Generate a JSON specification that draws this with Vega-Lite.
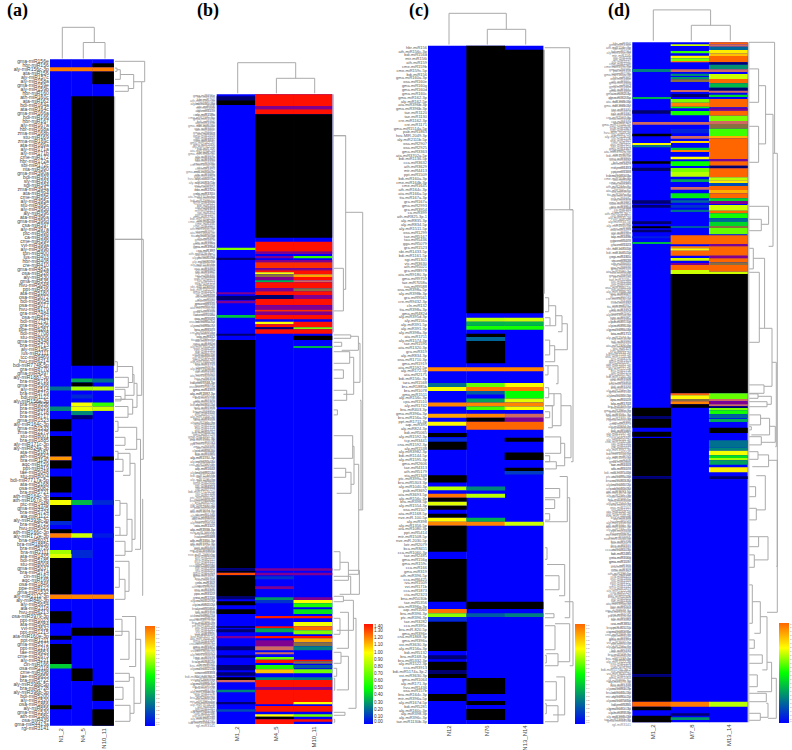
{"$schema":"https://vega.github.io/schema/vega-lite/v6.json","padding":0,"spacing":0,"background":"white","resolve":{"scale":{"color":"independent"},"legend":{"color":"independent"}},"config":{"view":{"stroke":null},"axis":{"disable":true},"legend":{"gradientStrokeWidth":0,"labelOverlap":false,"tickColor":"#999"},"text":{"font":"Liberation Sans"}},
"datasets":{
"ca":[{"c":0,"a":0,"b":166.6,"v":0},{"c":1,"a":0,"b":166.6,"v":0},{"c":2,"a":0,"b":166.6,"v":0},
{"c":2,"a":1,"b":2},{"c":2,"a":3,"b":6.2},{"c":1,"a":9.25,"b":76.6},{"c":2,"a":9.25,"b":76.6},
{"c":0,"a":2,"b":3,"v":0.96},{"c":1,"a":2,"b":3,"v":0.96},{"c":2,"a":2,"b":3,"v":0.96},
{"c":1,"a":79.8,"b":80.8,"v":0.33},{"c":2,"a":79.8,"b":80.8,"v":0.22},{"c":1,"a":80.8,"b":81.8},
{"c":0,"a":81.8,"b":82.8,"v":0.21},{"c":1,"a":81.8,"b":82.8,"v":0.66},{"c":2,"a":81.8,"b":82.8,"v":0.68},
{"c":1,"a":83.8,"b":84.8,"v":0.08},{"c":1,"a":85.8,"b":86.8,"v":0.74},{"c":2,"a":85.8,"b":86.8,"v":0.55},
{"c":0,"a":86.8,"b":87.9,"v":0.26},{"c":1,"a":86.8,"b":87.9,"v":0.73},{"c":2,"a":86.8,"b":87.9,"v":0.7},
{"c":1,"a":87.9,"b":89,"v":0.27},{"c":1,"a":89,"b":90,"m":"n"},
{"c":0,"a":90,"b":93},{"c":0,"a":94.2,"b":99.3},{"c":0,"a":99.3,"b":100.3,"v":0.92},{"c":2,"a":99.3,"b":100.3},{"c":0,"a":100.3,"b":102.3},{"c":0,"a":104.3,"b":108.3},{"c":0,"a":109.4,"b":110.2},
{"c":0,"a":110.2,"b":111.4,"v":0.74},{"c":1,"a":110.2,"b":111.4,"v":0.36},{"c":2,"a":110.2,"b":111.4,"v":0.08},
{"c":0,"a":111.4,"b":115.4},{"c":0,"a":115.4,"b":116.4,"v":0.08},{"c":0,"a":117.5,"b":118.5},
{"c":0,"a":118.5,"b":119.6,"v":0.96},{"c":1,"a":118.5,"b":119.6,"v":0.7},{"c":2,"a":118.5,"b":119.6,"v":0.05},
{"c":0,"a":122.7,"b":123.7,"v":0.66},{"c":1,"a":122.7,"b":124.7,"v":0.08},{"c":0,"a":123.7,"b":124.7,"v":0.72},
{"c":0,"a":124.7,"b":133.8},{"c":0,"a":133.8,"b":134.9,"v":0.95},{"c":1,"a":133.8,"b":134.9,"v":0.95},{"c":2,"a":133.8,"b":134.9,"v":0.95},
{"c":0,"a":138,"b":141},{"c":1,"a":142.1,"b":144.1},{"c":2,"a":142.1,"b":144.1},{"c":0,"a":144.1,"b":145.1},{"c":0,"a":146.2,"b":151.2},{"c":0,"a":151.2,"b":152.3,"v":0.4},
{"c":1,"a":152.3,"b":155.4},{"c":2,"a":156.5,"b":160.4},{"c":0,"a":161.5,"b":162.5},{"c":2,"a":162.5,"b":166.6}],
"cb":[{"c":0,"a":0,"b":314.8,"v":0},{"c":1,"a":0,"b":314.8,"v":0},{"c":2,"a":0,"b":314.8,"v":0},
{"c":0,"a":1,"b":3,"m":"n"},{"c":0,"a":3,"b":5.3},
{"c":1,"a":0,"b":5.8,"v":1.4},{"c":2,"a":0,"b":5.8,"v":1.4},{"c":1,"a":5.8,"b":7.5,"m":"p"},{"c":2,"a":5.8,"b":7.5,"m":"p"},{"c":1,"a":7.5,"b":10,"v":1.4},{"c":2,"a":7.5,"b":10,"v":1.4},{"c":1,"a":10,"b":71.7},{"c":2,"a":10,"b":71.7},
{"c":1,"a":73.7,"b":78.7,"v":1.4},{"c":2,"a":73.7,"b":78.7,"v":1.4},{"c":0,"a":76.7,"b":77.8,"v":0.75},{"c":0,"a":81.7,"b":82.8,"m":"n"},
{"c":1,"a":78.7,"b":79.8,"m":"p"},{"c":2,"a":78.7,"b":79.8,"m":"p"},{"c":1,"a":80.8,"b":82,"m":"p"},{"c":2,"a":80.8,"b":82,"v":0.6},
{"c":1,"a":82.8,"b":84,"m":"p"},{"c":2,"a":82.8,"b":84,"m":"p"},{"c":1,"a":84,"b":87,"v":1.35},{"c":2,"a":84,"b":87,"v":1.35},{"c":1,"a":87,"b":88,"m":"p"},{"c":2,"a":87,"b":88,"m":"p"},
{"c":1,"a":88,"b":89,"v":1.4},{"c":2,"a":88,"b":90,"v":1.4},{"c":1,"a":89,"b":90,"v":1.0},{"c":1,"a":90,"b":91.3,"m":"o"},{"c":2,"a":90,"b":91.3,"v":1.15},{"c":1,"a":91.3,"b":93,"m":"p"},{"c":2,"a":91.3,"b":93,"v":1.4},
{"c":1,"a":93,"b":94,"v":0.35},{"c":2,"a":93,"b":94,"m":"t"},{"c":1,"a":94,"b":97,"v":1.4},{"c":2,"a":94,"b":97,"v":1.4},{"c":1,"a":97,"b":98.5,"m":"p"},{"c":2,"a":97,"b":98.5,"m":"o"},{"c":1,"a":98.5,"b":100.3,"v":1.4},{"c":2,"a":98.5,"b":100.3,"v":1.4},
{"c":1,"a":100.3,"b":102.3,"m":"n"},{"c":2,"a":100.3,"b":102.3,"m":"p"},{"c":1,"a":102.3,"b":105.5,"v":1.4},{"c":2,"a":102.3,"b":105.5,"v":1.4},{"c":1,"a":105.5,"b":107.7,"m":"p"},{"c":2,"a":105.5,"b":107.7,"m":"p"},{"c":1,"a":107.7,"b":108.7,"v":1.35},{"c":2,"a":107.7,"b":108.7,"v":1.35},{"c":1,"a":108.7,"b":110.3,"m":"p"},{"c":2,"a":108.7,"b":110.3,"m":"p"},
{"c":1,"a":110.3,"b":112.5,"v":1.4},{"c":2,"a":110.3,"b":112.5,"v":1.4},{"c":1,"a":113.7,"b":115,"v":1.0},{"c":2,"a":113.7,"b":116.5,"v":1.4},{"c":1,"a":115,"b":116.5,"v":1.4},{"c":1,"a":116.5,"b":117.5,"m":"n"},{"c":2,"a":116.5,"b":117.5,"v":0.75},{"c":1,"a":117.5,"b":119.7,"v":1.4},{"c":2,"a":117.5,"b":119.7,"v":1.4},
{"c":2,"a":120.7,"b":122.8},{"c":2,"a":125.8,"b":126.8,"v":0.35},
{"c":0,"a":99,"b":100,"m":"p"},{"c":0,"a":100.8,"b":102.8,"m":"n"},{"c":0,"a":103.2,"b":104.5,"m":"p"},{"c":0,"a":110.3,"b":111.7,"v":0.38},{"c":0,"a":119.7,"b":120.7,"m":"n"},
{"c":0,"a":122.8,"b":156.5},{"c":0,"a":157.5,"b":237},
{"c":0,"a":237,"b":238.2,"m":"n"},{"c":1,"a":237,"b":238.2,"m":"p"},{"c":2,"a":237,"b":238.2,"m":"p"},{"c":0,"a":238.2,"b":239.2},{"c":0,"a":239.2,"b":240.5,"v":1.3},{"c":1,"a":239.2,"b":240.5,"m":"p"},{"c":2,"a":239.2,"b":240.5,"m":"p"},
{"c":0,"a":240.5,"b":250.8},{"c":1,"a":241,"b":242.5,"v":0.1},{"c":1,"a":246,"b":247.3,"m":"p"},{"c":0,"a":250.8,"b":252.5,"m":"n"},{"c":1,"a":251.5,"b":252.8,"v":0.3},{"c":2,"a":251.5,"b":252.8,"m":"p"},
{"c":0,"a":253.5,"b":255.5},{"c":1,"a":252.8,"b":254.5,"v":0.1},{"c":2,"a":252.8,"b":254.5,"v":1.0},{"c":2,"a":254.5,"b":256.5,"v":0.55},{"c":0,"a":257.5,"b":259.8},{"c":2,"a":257.5,"b":259.8,"v":0.45},
{"c":1,"a":260.8,"b":262,"v":1.38},{"c":2,"a":260.8,"b":262,"v":1.38},{"c":2,"a":263.8,"b":266,"v":0.98},{"c":0,"a":265.8,"b":266.8,"m":"n"},{"c":1,"a":266,"b":267,"v":1.4},{"c":2,"a":266,"b":268,"v":1.25},{"c":0,"a":267.5,"b":269,"m":"n"},{"c":1,"a":267,"b":269,"v":0.33},{"c":2,"a":268,"b":270,"v":0.75},
{"c":0,"a":270.8,"b":272,"m":"p"},{"c":1,"a":270.8,"b":272,"v":1.4},{"c":2,"a":270.8,"b":272,"v":1.4},{"c":2,"a":272,"b":274,"v":1.15},{"c":1,"a":273,"b":276,"m":"p"},{"c":2,"a":274,"b":275.8,"m":"o"},{"c":0,"a":276,"b":278,"m":"n"},{"c":1,"a":276,"b":278,"m":"t"},{"c":2,"a":276,"b":278,"v":0.25},
{"c":1,"a":279,"b":280,"m":"t"},{"c":1,"a":281.3,"b":282.7,"v":0.7},{"c":0,"a":280.5,"b":281.7,"m":"n"},{"c":1,"a":282.7,"b":284.3,"v":1.4},{"c":2,"a":282.7,"b":283.5,"v":1.4},{"c":2,"a":283.5,"b":284.7,"m":"o"},
{"c":1,"a":285.3,"b":287.5,"v":0.55},{"c":2,"a":285.3,"b":287,"v":0.18},{"c":0,"a":285.3,"b":288,"m":"n"},{"c":1,"a":287.5,"b":289.5,"v":1.1},{"c":2,"a":287.5,"b":289.5,"v":0.72},{"c":0,"a":289,"b":290.7,"m":"n"},{"c":1,"a":291.5,"b":292.8,"v":0.28},{"c":2,"a":291.5,"b":292.8,"v":0.25},{"c":0,"a":291.5,"b":292.8},
{"c":0,"a":292.8,"b":294,"m":"t"},{"c":1,"a":292.8,"b":296.3,"v":1.4},{"c":2,"a":292.8,"b":296.3,"v":1.4},{"c":1,"a":296.3,"b":297.7,"m":"p"},{"c":2,"a":296.3,"b":297.7,"m":"p"},{"c":0,"a":297.7,"b":299,"v":0.26},
{"c":1,"a":297.7,"b":303.8,"v":1.4},{"c":2,"a":297.7,"b":303.8,"v":1.4},{"c":1,"a":303.8,"b":305,"v":1.4},{"c":2,"a":303.8,"b":305,"v":1.0},{"c":0,"a":303.8,"b":305,"m":"n"},{"c":1,"a":305.8,"b":308.7,"v":1.4},{"c":2,"a":305.8,"b":308.7,"v":1.4},{"c":0,"a":307.5,"b":308.7,"v":0.15},
{"c":1,"a":310,"b":311.2,"v":1.0},{"c":2,"a":310,"b":311.2,"v":0.72},{"c":1,"a":311.2,"b":312.5},{"c":1,"a":312.5,"b":314.8,"v":1.4},{"c":2,"a":312.5,"b":313.7,"v":1.4}],
"cc":[{"c":0,"a":0,"b":169.6,"v":0},{"c":1,"a":0,"b":169.6,"v":0},{"c":2,"a":0,"b":169.6,"v":0},
{"c":1,"a":0,"b":66.9},{"c":2,"a":1,"b":66.9},
{"c":1,"a":68,"b":69,"v":0.68},{"c":2,"a":68,"b":69,"v":0.7},{"c":1,"a":69,"b":70,"v":0.35},{"c":2,"a":69,"b":70,"v":0.36},{"c":1,"a":70,"b":71,"v":0.52},{"c":2,"a":70,"b":71,"v":0.52},
{"c":1,"a":72,"b":72.8},{"c":1,"a":72.8,"b":73.8,"v":0.2},{"c":1,"a":73.8,"b":79.4},
{"c":0,"a":80.4,"b":81.4,"v":0.95},{"c":1,"a":80.4,"b":81.4,"v":0.95},{"c":2,"a":80.4,"b":81.4,"v":0.95},
{"c":0,"a":84.3,"b":85.3,"v":0.22},{"c":1,"a":84.3,"b":85.3,"v":0.6},{"c":2,"a":84.3,"b":85.3,"v":0.74},
{"c":0,"a":85.3,"b":86.3,"v":0.74},{"c":1,"a":85.3,"b":86.3,"v":0.98},{"c":2,"a":85.3,"b":86.3,"v":0.97},
{"c":1,"a":86.3,"b":87.2,"v":0.18},{"c":2,"a":86.3,"b":88.2,"v":0.5},{"c":1,"a":88.2,"b":89.2,"v":0.32},{"c":2,"a":88.2,"b":89.2,"v":0.72},
{"c":0,"a":89.2,"b":90.2,"v":0.95},{"c":1,"a":89.2,"b":90.2,"v":0.95},{"c":2,"a":89.2,"b":90.2,"v":0.95},{"c":1,"a":90.2,"b":91.1,"v":0.56},{"c":2,"a":90.2,"b":91.1,"v":0.74},
{"c":0,"a":92,"b":93,"v":0.9},{"c":1,"a":92,"b":93,"v":0.95},{"c":2,"a":92,"b":93,"m":"t"},{"c":1,"a":93,"b":94},{"c":2,"a":93,"b":94,"m":"p"},
{"c":0,"a":94,"b":95,"v":0.76},{"c":1,"a":94,"b":96,"v":1},{"c":2,"a":94,"b":96,"v":1},
{"c":0,"a":96.8,"b":97.8},{"c":2,"a":98,"b":99},{"c":0,"a":98,"b":99,"v":0.08},{"c":0,"a":99,"b":101},{"c":2,"a":101.7,"b":103.6},{"c":2,"a":105.5,"b":106.3},{"c":2,"a":106.3,"b":107.2,"v":0.12},
{"c":0,"a":107.4,"b":109.2},{"c":0,"a":110.2,"b":111.2,"v":0.68},{"c":1,"a":110.2,"b":111.2,"v":0.26},{"c":0,"a":111.2,"b":112,"v":0},{"c":0,"a":112,"b":113,"v":0.98},{"c":1,"a":112,"b":113,"v":0.68},
{"c":0,"a":113,"b":114},{"c":0,"a":114,"b":115,"v":0.72},{"c":0,"a":115,"b":116},{"c":0,"a":117,"b":118},{"c":0,"a":118,"b":119,"v":0.75},{"c":1,"a":118,"b":119,"v":0.34},
{"c":0,"a":119,"b":120,"v":0.95},{"c":1,"a":119,"b":120,"v":0.95},{"c":2,"a":119,"b":120,"v":0.7},
{"c":0,"a":120,"b":126.5},{"c":0,"a":128.3,"b":139},{"c":1,"a":139,"b":140.8},{"c":2,"a":139,"b":140.8},
{"c":0,"a":140.8,"b":141.9,"v":0.98},{"c":0,"a":141.9,"b":142.8,"v":0.64},{"c":1,"a":141.9,"b":142.8,"v":0.18},{"c":2,"a":141.9,"b":142.8,"v":0.25},{"c":0,"a":142.8,"b":144,"v":0.08},
{"c":0,"a":144,"b":151.3},{"c":0,"a":152.4,"b":153.4,"m":"n"},{"c":0,"a":154,"b":156.1},{"c":0,"a":156.1,"b":157.1,"m":"n"},{"c":0,"a":157.1,"b":158.1},{"c":1,"a":158.1,"b":162.1},{"c":0,"a":162.1,"b":163.8},{"c":1,"a":163.8,"b":164.8},{"c":1,"a":165.8,"b":168.6}],
"cd":[{"c":0,"a":0,"b":340,"v":0},{"c":1,"a":0,"b":340,"v":0},{"c":2,"a":0,"b":340,"v":0},
{"c":0,"a":13.3,"b":14.8,"v":0.25},{"c":0,"a":27.3,"b":28.3,"v":0.35},{"c":0,"a":34,"b":35.7,"m":"n"},{"c":0,"a":39.8,"b":41.2,"m":"t"},{"c":0,"a":45.7,"b":47},{"c":0,"a":50.3,"b":51.5,"v":0.76},{"c":0,"a":51.5,"b":52.5,"v":0.25},{"c":0,"a":59.5,"b":60.7},{"c":0,"a":62.7,"b":64.3,"m":"n"},{"c":0,"a":79,"b":80.7,"m":"n"},{"c":0,"a":81.3,"b":82.7,"m":"n"},{"c":0,"a":89.5,"b":90.8,"m":"n"},{"c":0,"a":92,"b":93},{"c":0,"a":93.7,"b":95,"m":"n"},{"c":0,"a":97,"b":98,"v":0.06},{"c":0,"a":99.8,"b":100.8,"v":0.36},
{"c":1,"a":1,"b":1.8,"v":0.7},{"c":1,"a":4.3,"b":5.5,"v":0.55},{"c":1,"a":6.7,"b":8,"v":0.78},{"c":1,"a":8,"b":9.3,"v":0.62},{"c":1,"a":9.3,"b":10,"v":0.95},{"c":1,"a":13.5,"b":14.8,"m":"t"},{"c":1,"a":15.7,"b":16.8,"v":0.27},{"c":1,"a":17.3,"b":18.5,"v":0.3},{"c":1,"a":18.5,"b":19.8,"m":"o"},{"c":1,"a":23.8,"b":24.8,"m":"t"},{"c":1,"a":25.8,"b":27.3,"m":"n"},{"c":1,"a":28.3,"b":30.2,"v":0.62},{"c":1,"a":30.2,"b":32.2,"v":0.95},{"c":1,"a":32.2,"b":33,"v":0.5},{"c":1,"a":34.3,"b":36.5,"v":0.52},{"c":1,"a":39.8,"b":41.2,"m":"t"},{"c":1,"a":43.3,"b":45.5,"v":0.07},{"c":1,"a":46.8,"b":48.2,"m":"t"},{"c":1,"a":49.3,"b":50.3,"v":0.82},{"c":1,"a":52.7,"b":53.8,"v":0.4},{"c":1,"a":53.8,"b":54.8,"v":0.95},{"c":1,"a":57.2,"b":58.5,"v":0.76},{"c":1,"a":59.5,"b":61.8,"v":0.5},{"c":1,"a":62.8,"b":64.8,"v":0.62},{"c":1,"a":64.8,"b":67.2,"v":0.68},{"c":1,"a":68.5,"b":69.8,"v":0.32},{"c":1,"a":72.3,"b":73.7,"m":"t"},{"c":1,"a":75.5,"b":78,"v":0.46},{"c":1,"a":79,"b":80.2,"v":0.2},{"c":1,"a":81.3,"b":82.7,"v":0.1},{"c":1,"a":83.7,"b":84.8,"v":0.22},{"c":1,"a":91.8,"b":92.8,"v":0.18},
{"c":1,"a":96.5,"b":101,"v":1},{"c":1,"a":102,"b":103,"v":0.96},{"c":1,"a":103,"b":104.2,"v":0.76},{"c":1,"a":104.2,"b":106.7,"v":1},{"c":1,"a":107.8,"b":109.2,"v":0.7},{"c":1,"a":110.3,"b":111.3,"m":"p"},{"c":1,"a":111.3,"b":113.8,"v":1},{"c":1,"a":113.8,"b":115.8,"v":0.7},{"c":1,"a":115.8,"b":175.5},
{"c":2,"a":0,"b":1,"v":1},{"c":2,"a":1,"b":2.2,"m":"t"},{"c":2,"a":2.2,"b":3.8,"v":0.2},{"c":2,"a":3.8,"b":5.5,"v":0.78},{"c":2,"a":5.5,"b":6.8,"v":0.85},{"c":2,"a":6.8,"b":10,"v":1},{"c":2,"a":10,"b":11.2,"m":"n"},{"c":2,"a":11.2,"b":13.5,"v":0.28},{"c":2,"a":13.5,"b":14.8,"m":"t"},{"c":2,"a":15.8,"b":18.3,"v":0.7},{"c":2,"a":18.3,"b":20.5,"v":1},{"c":2,"a":20.5,"b":22.7,"v":0.36},{"c":2,"a":22.7,"b":24.2,"m":"n"},{"c":2,"a":24.2,"b":25.2,"m":"t"},{"c":2,"a":26.2,"b":27.3,"v":0.42},{"c":2,"a":28.3,"b":32.5,"v":1},{"c":2,"a":33,"b":34.2,"m":"p"},{"c":2,"a":34.2,"b":36.7,"v":1},{"c":2,"a":36.7,"b":39.3,"v":0.62},{"c":2,"a":39.3,"b":40.8,"m":"t"},{"c":2,"a":40.8,"b":43.2,"m":"o"},{"c":2,"a":43.2,"b":46.8,"v":0.56},{"c":2,"a":46.8,"b":48,"v":0.88},{"c":2,"a":48,"b":58.5,"v":1},{"c":2,"a":58.5,"b":59.5,"m":"p"},{"c":2,"a":59.5,"b":61.7,"v":1},{"c":2,"a":61.7,"b":63,"m":"n"},{"c":2,"a":63,"b":67.5,"v":1},{"c":2,"a":67.5,"b":69,"v":0.68},{"c":2,"a":69,"b":70.3,"v":0.78},{"c":2,"a":70.3,"b":71.8,"v":0.15},{"c":2,"a":71.8,"b":73.8,"v":1},{"c":2,"a":73.8,"b":75.5,"v":0.88},{"c":2,"a":75.5,"b":78,"v":1},{"c":2,"a":78,"b":79.3,"v":0.42},{"c":2,"a":79.3,"b":80.8,"m":"p"},{"c":2,"a":81.3,"b":84.2,"v":0.7},{"c":2,"a":84.2,"b":85.5,"v":1},{"c":2,"a":85.5,"b":88,"v":0.52},{"c":2,"a":88,"b":89.7,"v":0.2},{"c":2,"a":89.7,"b":91.8,"v":0.42},{"c":2,"a":91.8,"b":92.8,"m":"o"},{"c":2,"a":92.8,"b":96,"v":0.6},{"c":2,"a":96.5,"b":101,"v":1},{"c":2,"a":101,"b":102,"m":"p"},{"c":2,"a":102,"b":106.7,"v":1},{"c":2,"a":106.7,"b":108,"m":"p"},{"c":2,"a":108,"b":110,"v":1},{"c":2,"a":110,"b":111.3,"m":"o"},{"c":2,"a":111.3,"b":114.7,"v":1},{"c":2,"a":114.7,"b":115.8,"v":0.7},{"c":2,"a":115.8,"b":175.5},
{"c":1,"a":175.5,"b":176.5,"v":1},{"c":1,"a":176.5,"b":178.3,"v":0.76},{"c":2,"a":175.5,"b":178.3,"v":0.6},{"c":1,"a":178.3,"b":179.5,"m":"o"},{"c":2,"a":178.3,"b":179.5,"m":"t"},{"c":1,"a":179.5,"b":181,"v":0.95},{"c":2,"a":179.5,"b":181,"m":"p"},{"c":1,"a":181,"b":182.7},{"c":2,"a":181,"b":182,"m":"t"},{"c":2,"a":182,"b":182.8,"m":"n"},
{"c":0,"a":182.7,"b":186.8},{"c":0,"a":186.8,"b":188.2,"m":"n"},{"c":0,"a":188.2,"b":192.7},{"c":0,"a":194.7,"b":197.2},{"c":0,"a":197.8,"b":217},{"c":0,"a":217,"b":218.3,"m":"n"},{"c":0,"a":218.3,"b":316},{"c":0,"a":316,"b":317.3,"m":"n"},{"c":0,"a":317.3,"b":329.7},{"c":0,"a":329.7,"b":332.2,"v":1},{"c":0,"a":332.2,"b":334},{"c":0,"a":336.7,"b":340},
{"c":1,"a":329.7,"b":332.2,"v":0.96},{"c":1,"a":335.5,"b":336.7,"m":"n"},{"c":1,"a":337.5,"b":338.8,"v":0.3},
{"c":2,"a":182.8,"b":184,"v":0.62},{"c":2,"a":184,"b":186,"v":0.52},{"c":2,"a":186,"b":188,"v":0.2},{"c":2,"a":188.3,"b":189.8,"v":0.33},{"c":2,"a":192.7,"b":195.3},{"c":2,"a":199,"b":202.7,"v":0.22},{"c":2,"a":202.7,"b":204.2,"v":0.26},{"c":2,"a":204.2,"b":206.5,"v":0.74},{"c":2,"a":206.5,"b":207.8,"v":0.44},{"c":2,"a":207.8,"b":209,"v":0.66},{"c":2,"a":209,"b":211.2,"v":0.32},{"c":2,"a":212.5,"b":215,"v":0.78},{"c":2,"a":217,"b":218.3,"m":"n"},{"c":2,"a":329.7,"b":332.2,"v":0.68}],
"da":[{"h":67,"a":2.2,"b":3,"p":65,"q":65},{"h":70.3,"a":2.6,"b":5,"p":67,"q":65},{"h":78.3,"a":6.6,"b":8,"p":65,"q":65},{"h":83.7,"a":3.8,"b":7.3,"p":70.3,"q":78.3},{"h":91.7,"a":5.6,"b":84,"p":83.7,"q":87},{"h":94.7,"a":0.5,"b":5.6,"p":65,"q":91.7},{"h":93.3,"a":45,"b":100,"p":65,"q":90.5},{"h":92.7,"a":110,"b":134,"p":92,"q":92},
{"h":67.3,"a":75.6,"b":78.1,"p":65,"q":65},{"h":82.7,"a":76.8,"b":80.8,"p":67.3,"q":78.3},{"h":78.3,"a":79.5,"b":82,"p":65,"q":65},{"h":84,"a":78.8,"b":84,"p":82.7,"q":75},{"h":75,"a":82.5,"b":85,"p":65,"q":65},{"h":71,"a":84.3,"b":85.4,"p":65,"q":65},{"h":82.7,"a":85,"b":88.7,"p":71,"q":78},{"h":78,"a":86.8,"b":89.5,"p":65,"q":65},{"h":87,"a":81,"b":87,"p":84,"q":82.7},
{"h":68,"a":90.5,"b":93,"p":65,"q":65},{"h":86.7,"a":92,"b":97.5,"p":68,"q":75},{"h":75,"a":94.5,"b":96.5,"p":65,"q":65},{"h":68,"a":98,"b":100,"p":65,"q":65},{"h":80,"a":98.5,"b":104,"p":68,"q":73},{"h":73,"a":100,"b":103,"p":65,"q":65},{"h":90.5,"a":95,"b":122.5,"p":86.7,"q":85},{"h":85,"a":101,"b":120,"p":80,"q":82},
{"h":70,"a":110.3,"b":114,"p":65,"q":65},{"h":77,"a":111,"b":119,"p":70,"q":70},{"h":70,"a":117,"b":119,"p":65,"q":65},{"h":82,"a":115,"b":123,"p":77,"q":75},{"h":75,"a":120.5,"b":124,"p":65,"q":65},
{"h":69.3,"a":127,"b":132,"p":65,"q":65},{"h":75,"a":130,"b":135,"p":69.3,"q":65},{"h":79,"a":125.5,"b":133,"p":65,"q":75},{"h":85.7,"a":139.3,"b":151.8,"p":72,"q":79},{"h":72,"a":140,"b":144,"p":65,"q":65},{"h":79,"a":143,"b":150,"p":65,"q":70},{"h":90.7,"a":145,"b":161,"p":85.7,"q":84},{"h":79.3,"a":153.5,"b":155.5,"p":65,"q":65},{"h":73,"a":157,"b":160,"p":65,"q":65},{"h":84,"a":154.5,"b":163.5,"p":79.3,"q":80},{"h":80,"a":161.5,"b":165.5,"p":65,"q":65}],
"db":[{"h":129,"a":20.7,"b":97.5,"p":116.7,"q":126.7},{"h":146,"a":59,"b":207.8,"p":129,"q":144.3},{"h":126.7,"a":87,"b":108.3,"p":117,"q":117},{"h":134,"a":120.3,"b":122,"p":117,"q":117},{"h":141.7,"a":121,"b":128,"p":134,"q":125},{"h":125,"a":124,"b":126,"p":117,"q":117},{"h":133,"a":128.7,"b":134.5,"p":117,"q":117},{"h":143.3,"a":124.5,"b":144,"p":141.7,"q":137},{"h":137,"a":131.5,"b":150,"p":133,"q":126.7},{"h":126.7,"a":137.8,"b":142,"p":117,"q":117},{"h":130,"a":148,"b":153,"p":117,"q":117},{"h":120.7,"a":157.8,"b":160.3,"p":117,"q":117},{"h":136,"a":170.7,"b":182,"p":117,"q":117},{"h":144.3,"a":153,"b":207.8,"p":143.3,"q":142},{"h":129,"a":187,"b":191.5,"p":117,"q":117},{"h":134.3,"a":189,"b":199.5,"p":129,"q":120},{"h":137.3,"a":176,"b":195,"p":136,"q":134.3},{"h":142,"a":185,"b":240,"p":137.3,"q":131.7},{"h":123.3,"a":228.7,"b":237.8,"p":117,"q":117},{"h":131.7,"a":234,"b":243,"p":123.3,"q":117},{"h":142.7,"a":238,"b":250,"p":131.7,"q":134},{"h":134,"a":241,"b":250,"p":117,"q":123},{"h":126.7,"a":251,"b":253.7,"p":117,"q":117},{"h":136.7,"a":253,"b":268,"p":126.7,"q":120},{"h":123.3,"a":262,"b":270,"p":117,"q":117},{"h":131.7,"a":259,"b":277,"p":123.3,"q":120},{"h":124.3,"a":279,"b":284.5,"p":117,"q":117},{"h":131.7,"a":281,"b":297.8,"p":124.3,"q":120},{"h":120,"a":287,"b":291,"p":117,"q":117},{"h":118,"a":292,"b":298,"p":117,"q":117},{"h":139.3,"a":262,"b":307,"p":136.7,"q":131.7},{"h":128.3,"a":309,"b":310.5,"p":117,"q":117},{"h":118,"a":312.5,"b":314,"p":117,"q":117}],
"dc":[{"h":141.7,"a":0.5,"b":41,"p":116.7,"q":145},{"h":145,"a":41,"b":104,"p":116.7,"q":143},{"h":120.7,"a":63,"b":66.5,"p":117,"q":117},{"h":127.7,"a":65,"b":70,"p":120.7,"q":122},{"h":122,"a":68,"b":70,"p":117,"q":117},{"h":134,"a":67.5,"b":71.5,"p":127.7,"q":130},{"h":139.3,"a":69.5,"b":76,"p":134,"q":126.7},
{"h":121.7,"a":73.6,"b":77.3,"p":117,"q":117},{"h":126.7,"a":75,"b":79,"p":121.7,"q":117},{"h":120,"a":80,"b":82.3,"p":117,"q":117},{"h":130,"a":80,"b":84.5,"p":120,"q":128},{"h":120.7,"a":85.5,"b":88,"p":117,"q":117},{"h":126,"a":87,"b":90,"p":120.7,"q":117},{"h":121.7,"a":91.5,"b":93,"p":117,"q":117},{"h":124.3,"a":90,"b":95.5,"p":117,"q":120},{"h":133,"a":87,"b":95,"p":126,"q":124.3},{"h":132.7,"a":97.8,"b":101.9,"p":117,"q":117},{"h":121.7,"a":102.5,"b":104,"p":117,"q":117},{"h":128.3,"a":104,"b":105.8,"p":117,"q":117},{"h":136.7,"a":99.4,"b":105,"p":132.7,"q":128.3},{"h":143,"a":90,"b":103,"p":133,"q":136.7},
{"h":139.3,"a":107.7,"b":119,"p":131.7,"q":117},{"h":131.7,"a":110.7,"b":113,"p":117,"q":117},{"h":126.7,"a":113.5,"b":115.7,"p":117,"q":117},{"h":121.7,"a":117,"b":118.6,"p":117,"q":117},{"h":141.7,"a":113,"b":143,"p":139.3,"q":136.7},{"h":119,"a":125.5,"b":128.4,"p":117,"q":117},{"h":136.7,"a":129.7,"b":137.5,"p":119,"q":131},{"h":131,"a":132.5,"b":136,"p":117,"q":117},{"h":126,"a":142,"b":143,"p":117,"q":117},{"h":145,"a":139,"b":155,"p":136.7,"q":141.7},{"h":141.7,"a":144.5,"b":154,"p":127,"q":130},{"h":127,"a":145,"b":151,"p":117,"q":117},{"h":118.3,"a":152.4,"b":154.3,"p":117,"q":117},{"h":130,"a":152,"b":155,"p":118.3,"q":117},{"h":128.3,"a":159,"b":163.6,"p":117,"q":117},{"h":136.7,"a":157.8,"b":167.3,"p":128.3,"q":125},{"h":118.3,"a":164.5,"b":167,"p":117,"q":117},{"h":130,"a":165,"b":169,"p":118.3,"q":117}],
"dd":[{"h":142.3,"a":0,"b":55.5,"p":116.7,"q":140.7},{"h":145,"a":55.5,"b":262,"p":142.3,"q":144},{"h":126.3,"a":13.3,"b":30,"p":117,"q":117},{"h":133.3,"a":21.7,"b":50.8,"p":126.3,"q":126.3},{"h":126.3,"a":42,"b":60,"p":117,"q":117},{"h":140.7,"a":36,"b":102,"p":133.3,"q":136.3},{"h":136.3,"a":82,"b":91,"p":117,"q":129},{"h":129,"a":88.5,"b":94.2,"p":117,"q":117},{"h":121,"a":103,"b":113.3,"p":117,"q":117},{"h":132.3,"a":108,"b":143,"p":121,"q":127},{"h":127,"a":115,"b":150,"p":117,"q":117},{"h":139.7,"a":143,"b":172,"p":132.3,"q":131.7},{"h":131.7,"a":171.3,"b":175.5,"p":117,"q":117},{"h":125.7,"a":175.8,"b":178,"p":117,"q":117},{"h":134.7,"a":179.7,"b":182.2,"p":117,"q":117},{"h":139,"a":177,"b":181,"p":125.7,"q":134.7},{"h":144,"a":160,"b":202.2,"p":139.7,"q":143},{"h":128.3,"a":186.3,"b":191.3,"p":117,"q":117},{"h":137.3,"a":188,"b":196.3,"p":128.3,"q":119},{"h":119,"a":192.2,"b":193.8,"p":117,"q":117},{"h":129,"a":197.2,"b":201.3,"p":117,"q":117},{"h":143,"a":192,"b":200,"p":137.3,"q":129},{"h":125.7,"a":204.7,"b":208.5,"p":117,"q":117},{"h":136.3,"a":206.3,"b":212.2,"p":125.7,"q":120},{"h":133,"a":216.7,"b":233.8,"p":124,"q":124},{"h":123.3,"a":222.2,"b":227.2,"p":117,"q":117},{"h":124,"a":233,"b":238.8,"p":117,"q":117},{"h":135.7,"a":247.2,"b":258.8,"p":126.3,"q":122},{"h":126.3,"a":247.2,"b":252.2,"p":117,"q":117},{"h":122,"a":256.3,"b":262.5,"p":117,"q":117},{"h":145,"a":209,"b":285,"p":136.3,"q":134.7},{"h":120,"a":271.3,"b":290.5,"p":117,"q":117},{"h":128,"a":279.7,"b":295.5,"p":120,"q":122},{"h":134.7,"a":287.2,"b":313.8,"p":128,"q":130},{"h":122,"a":298.8,"b":303,"p":117,"q":117},{"h":130,"a":306.3,"b":310.5,"p":117,"q":117},{"h":125,"a":316.3,"b":322.2,"p":117,"q":117},{"h":139.3,"a":310,"b":324.7,"p":134.7,"q":125},{"h":134,"a":325.5,"b":329.7,"p":117,"q":117},{"h":144,"a":318,"b":338,"p":139.3,"q":135.7},{"h":135.7,"a":330.5,"b":337.5,"p":134,"q":128},{"h":128,"a":335.5,"b":339,"p":117,"q":117}],
"sa":[{"x":12.3,"y":-8,"x2":44.3,"y2":-8},{"x":12.3,"y":-8,"x2":12.3,"y2":-0.2},{"x":44.3,"y":-8,"x2":44.3,"y2":-4.2},{"x":33.3,"y":-4.2,"x2":55,"y2":-4.2},{"x":33.3,"y":-4.2,"x2":33.3,"y2":-0.2},{"x":55,"y":-4.2,"x2":55,"y2":-0.2},{"x":64.7,"y":9.25,"x2":64.7,"y2":76.6},{"x":64.7,"y":45,"x2":93,"y2":45}],
"sb":[{"x":21,"y":-15.8,"x2":79,"y2":-15.8},{"x":21,"y":-15.8,"x2":21,"y2":-0.5},{"x":79,"y":-15.8,"x2":79,"y2":-8},{"x":59.7,"y":-8,"x2":98,"y2":-8},{"x":59.7,"y":-8,"x2":59.7,"y2":-0.5},{"x":98,"y":-8,"x2":98,"y2":-0.5},{"x":116.5,"y":0,"x2":116.5,"y2":119},{"x":116.5,"y":20.7,"x2":129,"y2":20.7}],
"sc":[{"x":21,"y":-8.1,"x2":78.3,"y2":-8.1},{"x":21,"y":-8.1,"x2":21,"y2":-0.3},{"x":78.3,"y":-8.1,"x2":78.3,"y2":-4.1},{"x":59.3,"y":-4.1,"x2":97.7,"y2":-4.1},{"x":59.3,"y":-4.1,"x2":59.3,"y2":-0.3},{"x":97.7,"y":-4.1,"x2":97.7,"y2":-0.3},{"x":116.3,"y":1,"x2":116.3,"y2":62}],
"sd":[{"x":21,"y":-16.2,"x2":78.3,"y2":-16.2},{"x":21,"y":-16.2,"x2":21,"y2":-0.8},{"x":78.3,"y":-16.2,"x2":78.3,"y2":-8.5},{"x":59,"y":-8.5,"x2":98,"y2":-8.5},{"x":59,"y":-8.5,"x2":59,"y2":-0.8},{"x":98,"y":-8.5,"x2":98,"y2":-0.8},{"x":116.5,"y":0,"x2":116.5,"y2":340}],
"la":["gma-miR156e","hbr-miR156","aly-miR156c-3p","ata-miR156","aly-miR157c","aly-miR158a","gma-miR159e","aly-miR159b","hbr-miR160","ath-miR160c","ata-miR162","bdi-miR164a","ata-miR164c","gma-miR166a","bdi-miR166","hbr-miR167","aly-miR167a","hbr-miR168a","zma-miR168b","stu-miR169","zma-miR169c","ata-miR169a","aly-miR171a","aly-miR171b","cme-miR172","hbr-miR172a","sbi-miR172c","nta-miR390","gma-miR390a","bdi-miR393","sly-miR393","sgi-miR394","zma-miR394a","ata-miR394","cme-miR395","aly-miR395a","stu-miR395c","aly-miR395d","aly-miR396","ata-miR396a","gma-miR396d","csa-miR397","aly-miR397a","ptc-miR398","ca-miR398","cme-miR399","vvi-miR399a","aly-miR399b","tpn-miR400","lus-miR403","hbr-miR408","cre-miR410","gma-miR482a","osa-miR528","aly-miR530","gma-miR535","hvu-miR5048","ppt-miR536","ata-miR5180","osa-miR5072","bdi-miR5054","osa-miR5077","hvu-miR6179","gra-miR7484","osa-miR812","bdi-miR7757","gra-miR7505","ppe-miR6281","bdi-miR7708","stu-miR8006","gma-miR4348","bra-miR5713","aly-miR159c","lus-miR2111","tcc-miR9469","hvu-miR6214","bdi-miR7748-5p","gra-miR8770","gma-miR4397","aly-miR1887-3p","bra-miR5716","gma-miR5368","aly-miR1514","bra-miR5719","bdi-miR1122","aly-miR156e-3p","bra-miR9558","bra-miR6029","bra-miR5718","bra-miR5717","gma-miR1523","aly-miR164c-3p","gma-miR1533","zma-miR2275","stu-miR8001","bra-miR1885","aly-miR171c-3p","aly-miR824a-3p","ata-miR5181","ath-miR5642","bra-miR1140","aqc-miR159","ppt-miR419","tae-miR5048","stu-miR8004","bdi-miR7717a-5p","ata-miR5168","osa-miR5082","bra-miR5721","ath-miR164c-3p","ath-miR167d-3p","ptc-miR1448","gma-miR4405","bra-miR5724","ata-miR1122","aly-miR393b-3p","bra-miR5725","hvu-miR5049","ath-miR166c-3p","aly-miR172e-3p","bna-miR6031","bra-miR1885b","bra-miR5726","bra-miR2111","ata-miR1435","bdi-miR5185","stu-miR8008","gma-miR5037","bra-miR5714","cln-miR162","aqc-miR169","osa-miR1846","ppe-miR8122","gma-miR1532","aly-miR2112-3p","aly-miR840-3p","aly-miR5654","ata-miR2118","hvu-miR6213","osa-miR3979-3p","ppt-miR1023","ata-miR5084","vvi-miR3632","ppt-miR1215","ata-miR160e-3p","ppt-miR1211","gma-miR5372","ppt-miR1219","tae-miR9653","cme-miR2673","aly-miR4221","cln-miR166","osa-miR2118","cme-miR398","tae-miR9655","bra-miR5722","aly-miR398b-5p","bra-miR5728","aly-miR396b-3p","bdi-miR5200","aly-miR1520","osa-miR1866","aly-miR856","gma-miR1530","ath-miR158b","osa-miR439","gma-miR4413a","rgl-miR3141"],
"lc":["hbr-miR156","ath-miR156c-3p","bdi-miR156d","mtr-miR156i","ath-miR159","cme-miR159b","cme-miR159c-5p","bdi-miR156","gma-miR160a-3p","osa-miR160e","gma-miR160g","gma-miR160d","gma-miR160c","gma-miR162-3p","aly-miR162-5p","ata-miR396b-3p","gma-miR396b-3p","tae-miR1120","tae-miR1130","cre-miR1162-3p","cre-miR1171","gma-miR1514a-5p","pab-miR1863","hvu-MIR-2049-3p","aly-miR2111b-5p","osa-miR2907","osa-miR2925","gma-miR3363","ata-miR3702a-5p","bdi-miR1136-5p","cca-miR3632","ath-miR3629","mtr-miR4413","ppt-miR1509","bdi-miR160a-3p","cme-miR164b-3p","cme-miR1645","ath-miR164c-3p","ata-miR166a-5p","tta-miR167a-3p","gra-miR167a","gma-miR2993","gra-miR3954","ca-miR399","ath-miR825-3p-1","aly-miR835-3p","aly-miR834-5p","aly-miR1511-5p","osa-miR1299","tae-miR5167","tau-miR5436","gga-miR5079","gra-miR1523","sbi-miR1433-5p","bdi-miR1161-5p","sgi-miR1301","vtc-miR3630","ath-miR5021","gra-miR8978","ata-miR9180-3p","gma-miR9759","tae-miR7058a","iua-miR9588","osa-miR398a-5p","aly-miR398b-3p","gra-miR9561","cre-miR9432-3p","cln-miR132","tta-miR398a-3p","gma-miR482d","aly-miR395d-3p","aly-miR156a","aly-miR391-5p","aly-miR391-3p","aly-miR398a-3p","ata-miR1711","aly-miR1574-3p","tae-miR1590","ata-miR1320-3p","gra-miR319","aly-miR834-3p","osa-miR1710-3p","gma-miR1919","ata-miR1592-5p","aly-miR172-5p","ata-miR2175","bdi-miR156c-3p","tara-miR1568","bra-miR1885b","bra-miR1078","gma-miR1511","aly-miR156c-3p","cpa-miR1510","aly-miR1742","bra-miR403-3p","gma-miR396a-3p","bra-miR156a-3p","ppt-miR1711-3p","aqc-miR395","aly-miR824-3p","bdi-miR5065","aly-miR1592-3p","tcp-miR3441","cna-miR1592-3p","aly-miR1538","aly-miR3982-3p","bdi-miR1144-5p","aly-miR1595-3p","gma-miR2606","tae-miR4313","ath-miR5179","sta-miR1348","ptc-miR399a-3p","bra-miR5303-3p","aly-miR1040-3p","pab-miR3692","ata-miR3693-5p","aly-miR156c-3p","bra-miR398-5p","aly-miR1554-3p","osa-miR1507","ata-miR1168-5p","nve-miR-100-5p","aly-miR398","aly-miR1356-5p","ata-miR1080-3p","ppt-miR5414","mtr-miR1508-5p","nve-miR-2030-5p","lotr-miR2079","bca-miR8411","cca-miR1060-3p","tae-miR2485","gma-miR156g","gma-miR159c","cca-miR166","gma-miR319","ath-miR396-5p","cca-miR6425","iva-miR1509","vvi-miR171b","cca-miR1873","cta-miR2323","bna-miR5030b","tae-miR5356","ata-miR396g-3p","aqc-miR1060","bra-miR396-3p","ptc-miR396-3p","tae-miR3282","cca-miR395c","bra-miR-820-5p","gma-miR396e","cna-miR1868-3p","gma-miR396a","vvi-miR3630-3p","aly-miR156a-3p","bdi-miR5132","bra-miR168-3p","bra-miR5332-3p","aly-miR1522-3p","cca-miR3913","bdi-miR5174a-3p-2","vvi-miR3630-3p","gma-miR1064","aly-miR171-3p","hvu-miR1436","osa-miR157b","bra-miR164c-3p","mtr-miR396a-5p","aly-miR167d-5p","bdi-miR5281","aly-miR160c-3p","aly-miR398-3p","aly-miR396c-3p","tae-miR1130b-3p"]
},
"hconcat":[
{"width":185,"height":750,"layer":[
{"data":{"name":"ca"},"transform":[{"calculate":"datum.c*21.15","as":"x0"},{"calculate":"(datum.c+1)*21.15+0.4","as":"x1"},{"calculate":"isValid(datum.v)?datum.v:0","as":"w"}],"mark":"rect","encoding":{"x":{"field":"x0","type":"quantitative","scale":{"domain":[-50,135],"nice":false,"zero":false}},"x2":{"field":"x1"},"y":{"field":"a","type":"quantitative","scale":{"domain":[-14.83,172.67],"reverse":true,"nice":false,"zero":false}},"y2":{"field":"b"},"color":{"condition":[{"test":"datum.m=='p'","value":"#800090"},{"test":"datum.m=='n'","value":"#000070"},{"test":"datum.m=='o'","value":"#8a7040"},{"test":"datum.m=='t'","value":"#d06a60"},{"test":"!isValid(datum.v)","value":"#000000"}],"field":"w","type":"quantitative","scale":{"domain":[0,0.5,0.75,1],"range":["#0000ff","#00ff00","#ffff00","#ff6600"],"interpolate":"rgb"},"legend":{"orient":"none","direction":"vertical","legendX":145,"legendY":626,"gradientLength":100,"gradientThickness":10,"title":null,"values":[0,0.04,0.08,0.12,0.16,0.2,0.24,0.28,0.32,0.36,0.4,0.44,0.48,0.52,0.56,0.6,0.64,0.68,0.72,0.76,0.8,0.84,0.88,0.92,0.96,1],"labelFontSize":2.5,"labelColor":"#777","labelOffset":1,"padding":0}}}},
{"data":{"name":"da"},"mark":{"type":"rule","color":"#aaa","strokeWidth":1},"encoding":{"x":{"field":"h","type":"quantitative"},"y":{"field":"a","type":"quantitative"},"y2":{"field":"b"}}},
{"data":{"name":"da"},"mark":{"type":"rule","color":"#aaa","strokeWidth":1},"encoding":{"x":{"field":"p","type":"quantitative"},"x2":{"field":"h"},"y":{"field":"a","type":"quantitative"}}},
{"data":{"name":"da"},"mark":{"type":"rule","color":"#aaa","strokeWidth":1},"encoding":{"x":{"field":"q","type":"quantitative"},"x2":{"field":"h"},"y":{"field":"b","type":"quantitative"}}},
{"data":{"name":"sa"},"mark":{"type":"rule","color":"#aaa","strokeWidth":1},"encoding":{"x":{"field":"x","type":"quantitative"},"x2":{"field":"x2"},"y":{"field":"y","type":"quantitative"},"y2":{"field":"y2"}}},
{"data":{"name":"la"},"transform":[{"window":[{"op":"row_number","as":"i"}]},{"calculate":"(datum.i-0.5)*166.6/167","as":"r"}],"mark":{"type":"text","align":"right","baseline":"middle","fontSize":5,"color":"#444"},"encoding":{"x":{"datum":-1.3},"y":{"field":"r","type":"quantitative"},"text":{"field":"data"}}},
{"data":{"values":[{"t":"N1_2","x":11,"r":167.2},{"t":"N4_5","x":33,"r":167.2},{"t":"N10_11","x":54,"r":167.2}]},"mark":{"type":"text","angle":270,"align":"right","baseline":"middle","fontSize":6,"color":"#444"},"encoding":{"x":{"field":"x","type":"quantitative"},"y":{"field":"r","type":"quantitative"},"text":{"field":"t"}}},
{"data":{"values":[{"t":"(a)","x":-43,"r":-10.8}]},"mark":{"type":"text","align":"left","baseline":"alphabetic","font":"Liberation Serif","fontWeight":"bold","fontSize":18,"color":"#000"},"encoding":{"x":{"field":"x","type":"quantitative"},"y":{"field":"r","type":"quantitative"},"text":{"field":"t"}}}
]},
{"width":195,"height":750,"layer":[
{"data":{"name":"cb"},"transform":[{"calculate":"datum.c*38.4","as":"x0"},{"calculate":"(datum.c+1)*38.4+0.4","as":"x1"},{"calculate":"isValid(datum.v)?datum.v:0","as":"w"}],"mark":"rect","encoding":{"x":{"field":"x0","type":"quantitative","scale":{"domain":[-31.7,163.3],"nice":false,"zero":false}},"x2":{"field":"x1"},"y":{"field":"a","type":"quantitative","scale":{"domain":[-47.15,327.85],"reverse":true,"nice":false,"zero":false}},"y2":{"field":"b"},"color":{"condition":[{"test":"datum.m=='p'","value":"#800090"},{"test":"datum.m=='n'","value":"#000070"},{"test":"datum.m=='o'","value":"#8a7040"},{"test":"datum.m=='t'","value":"#d06a60"},{"test":"!isValid(datum.v)","value":"#000000"}],"field":"w","type":"quantitative","scale":{"domain":[0,0.5,1,1.2,1.4],"range":["#0000ff","#00ff00","#ffff00","#ff8800","#ff1000"],"interpolate":"rgb"},"legend":{"orient":"none","direction":"vertical","legendX":179,"legendY":624,"gradientLength":100,"gradientThickness":9,"title":null,"format":".2f","values":[0,0.1,0.2,0.3,0.4,0.5,0.6,0.7,0.8,0.9,1,1.1,1.2,1.3,1.4],"labelFontSize":4.5,"labelColor":"#333","labelOffset":1,"padding":0}}}},
{"data":{"name":"db"},"mark":{"type":"rule","color":"#aaa","strokeWidth":1},"encoding":{"x":{"field":"h","type":"quantitative"},"y":{"field":"a","type":"quantitative"},"y2":{"field":"b"}}},
{"data":{"name":"db"},"mark":{"type":"rule","color":"#aaa","strokeWidth":1},"encoding":{"x":{"field":"p","type":"quantitative"},"x2":{"field":"h"},"y":{"field":"a","type":"quantitative"}}},
{"data":{"name":"db"},"mark":{"type":"rule","color":"#aaa","strokeWidth":1},"encoding":{"x":{"field":"q","type":"quantitative"},"x2":{"field":"h"},"y":{"field":"b","type":"quantitative"}}},
{"data":{"name":"sb"},"mark":{"type":"rule","color":"#aaa","strokeWidth":1},"encoding":{"x":{"field":"x","type":"quantitative"},"x2":{"field":"x2"},"y":{"field":"y","type":"quantitative"},"y2":{"field":"y2"}}},
{"data":{"name":"la"},"transform":[{"window":[{"op":"row_number","as":"i"}]},{"calculate":"(datum.i-0.5)*314.8/167","as":"r"}],"mark":{"type":"text","align":"right","baseline":"middle","fontSize":3.5,"color":"#777"},"encoding":{"x":{"datum":-1.7},"y":{"field":"r","type":"quantitative"},"text":{"field":"data"}}},
{"data":{"name":"lc"},"transform":[{"window":[{"op":"row_number","as":"i"}]},{"calculate":"(datum.i-0.25)*314.8/176","as":"r"}],"mark":{"type":"text","align":"right","baseline":"middle","fontSize":3.5,"color":"#888"},"encoding":{"x":{"datum":-1.7},"y":{"field":"r","type":"quantitative"},"text":{"field":"data"}}},
{"data":{"values":[{"t":"M1_2","x":20,"r":316},{"t":"M4_5","x":59,"r":316},{"t":"M10_11","x":97.7,"r":316}]},"mark":{"type":"text","angle":270,"align":"right","baseline":"middle","fontSize":6,"color":"#444"},"encoding":{"x":{"field":"x","type":"quantitative"},"y":{"field":"r","type":"quantitative"},"text":{"field":"t"}}},
{"data":{"values":[{"t":"(b)","x":-19.7,"r":-39}]},"mark":{"type":"text","align":"left","baseline":"alphabetic","font":"Liberation Serif","fontWeight":"bold","fontSize":18,"color":"#000"},"encoding":{"x":{"field":"x","type":"quantitative"},"y":{"field":"r","type":"quantitative"},"text":{"field":"t"}}}
]},
{"width":210,"height":750,"layer":[
{"data":{"name":"cc"},"transform":[{"calculate":"datum.c*38.33","as":"x0"},{"calculate":"(datum.c+1)*38.33+0.4","as":"x1"},{"calculate":"isValid(datum.v)?datum.v:0","as":"w"}],"mark":"rect","encoding":{"x":{"field":"x0","type":"quantitative","scale":{"domain":[-45,165],"nice":false,"zero":false}},"x2":{"field":"x1"},"y":{"field":"a","type":"quantitative","scale":{"domain":[-11.43,176.07],"reverse":true,"nice":false,"zero":false}},"y2":{"field":"b"},"color":{"condition":[{"test":"datum.m=='p'","value":"#800090"},{"test":"datum.m=='n'","value":"#000070"},{"test":"datum.m=='o'","value":"#8a7040"},{"test":"datum.m=='t'","value":"#d06a60"},{"test":"!isValid(datum.v)","value":"#000000"}],"field":"w","type":"quantitative","scale":{"domain":[0,0.5,0.75,1],"range":["#0000ff","#00ff00","#ffff00","#ff6600"],"interpolate":"rgb"},"legend":{"orient":"none","direction":"vertical","legendX":192,"legendY":624,"gradientLength":100,"gradientThickness":10,"title":null,"values":[0,0.04,0.08,0.12,0.16,0.2,0.24,0.28,0.32,0.36,0.4,0.44,0.48,0.52,0.56,0.6,0.64,0.68,0.72,0.76,0.8,0.84,0.88,0.92,0.96,1],"labelFontSize":2.5,"labelColor":"#777","labelOffset":1,"padding":0}}}},
{"data":{"name":"dc"},"mark":{"type":"rule","color":"#aaa","strokeWidth":1},"encoding":{"x":{"field":"h","type":"quantitative"},"y":{"field":"a","type":"quantitative"},"y2":{"field":"b"}}},
{"data":{"name":"dc"},"mark":{"type":"rule","color":"#aaa","strokeWidth":1},"encoding":{"x":{"field":"p","type":"quantitative"},"x2":{"field":"h"},"y":{"field":"a","type":"quantitative"}}},
{"data":{"name":"dc"},"mark":{"type":"rule","color":"#aaa","strokeWidth":1},"encoding":{"x":{"field":"q","type":"quantitative"},"x2":{"field":"h"},"y":{"field":"b","type":"quantitative"}}},
{"data":{"name":"sc"},"mark":{"type":"rule","color":"#aaa","strokeWidth":1},"encoding":{"x":{"field":"x","type":"quantitative"},"x2":{"field":"x2"},"y":{"field":"y","type":"quantitative"},"y2":{"field":"y2"}}},
{"data":{"name":"lc"},"transform":[{"window":[{"op":"row_number","as":"i"}]},{"calculate":"(datum.i-0.5)*169.6/176","as":"r"}],"mark":{"type":"text","align":"right","baseline":"middle","fontSize":4,"color":"#555"},"encoding":{"x":{"datum":-1},"y":{"field":"r","type":"quantitative"},"text":{"field":"data"}}},
{"data":{"values":[{"t":"N12","x":20.7,"r":169.9},{"t":"N76","x":58.7,"r":169.9},{"t":"N13_N14","x":97.3,"r":169.9}]},"mark":{"type":"text","angle":270,"align":"right","baseline":"middle","fontSize":6,"color":"#444"},"encoding":{"x":{"field":"x","type":"quantitative"},"y":{"field":"r","type":"quantitative"},"text":{"field":"t"}}},
{"data":{"values":[{"t":"(c)","x":-19,"r":-7.4}]},"mark":{"type":"text","align":"left","baseline":"alphabetic","font":"Liberation Serif","fontWeight":"bold","fontSize":18,"color":"#000"},"encoding":{"x":{"field":"x","type":"quantitative"},"y":{"field":"r","type":"quantitative"},"text":{"field":"t"}}}
]},
{"width":202,"height":750,"layer":[
{"data":{"name":"cd"},"transform":[{"calculate":"datum.c*38.33","as":"x0"},{"calculate":"(datum.c+1)*38.33+0.4","as":"x1"},{"calculate":"isValid(datum.v)?datum.v:0","as":"w"}],"mark":"rect","encoding":{"x":{"field":"x0","type":"quantitative","scale":{"domain":[-39.3,162.7],"nice":false,"zero":false}},"x2":{"field":"x1"},"y":{"field":"a","type":"quantitative","scale":{"domain":[-21.15,353.85],"reverse":true,"nice":false,"zero":false}},"y2":{"field":"b"},"color":{"condition":[{"test":"datum.m=='p'","value":"#800090"},{"test":"datum.m=='n'","value":"#000070"},{"test":"datum.m=='o'","value":"#8a7040"},{"test":"datum.m=='t'","value":"#d06a60"},{"test":"!isValid(datum.v)","value":"#000000"}],"field":"w","type":"quantitative","scale":{"domain":[0,0.5,0.75,1],"range":["#0000ff","#00ff00","#ffff00","#ff6600"],"interpolate":"rgb"},"legend":{"orient":"none","direction":"vertical","legendX":186,"legendY":623,"gradientLength":100,"gradientThickness":10,"title":null,"values":[0,0.04,0.08,0.12,0.16,0.2,0.24,0.28,0.32,0.36,0.4,0.44,0.48,0.52,0.56,0.6,0.64,0.68,0.72,0.76,0.8,0.84,0.88,0.92,0.96,1],"labelFontSize":2.5,"labelColor":"#777","labelOffset":1,"padding":0}}}},
{"data":{"name":"dd"},"mark":{"type":"rule","color":"#aaa","strokeWidth":1},"encoding":{"x":{"field":"h","type":"quantitative"},"y":{"field":"a","type":"quantitative"},"y2":{"field":"b"}}},
{"data":{"name":"dd"},"mark":{"type":"rule","color":"#aaa","strokeWidth":1},"encoding":{"x":{"field":"p","type":"quantitative"},"x2":{"field":"h"},"y":{"field":"a","type":"quantitative"}}},
{"data":{"name":"dd"},"mark":{"type":"rule","color":"#aaa","strokeWidth":1},"encoding":{"x":{"field":"q","type":"quantitative"},"x2":{"field":"h"},"y":{"field":"b","type":"quantitative"}}},
{"data":{"name":"sd"},"mark":{"type":"rule","color":"#aaa","strokeWidth":1},"encoding":{"x":{"field":"x","type":"quantitative"},"x2":{"field":"x2"},"y":{"field":"y","type":"quantitative"},"y2":{"field":"y2"}}},
{"data":{"name":"lc"},"transform":[{"window":[{"op":"row_number","as":"i"}]},{"calculate":"(datum.i-0.5)*340/176","as":"r"}],"mark":{"type":"text","align":"right","baseline":"middle","fontSize":3.5,"color":"#777"},"encoding":{"x":{"datum":-1.3},"y":{"field":"r","type":"quantitative"},"text":{"field":"data"}}},
{"data":{"name":"la"},"transform":[{"window":[{"op":"row_number","as":"i"}]},{"calculate":"(datum.i-0.25)*340/167","as":"r"}],"mark":{"type":"text","align":"right","baseline":"middle","fontSize":3.5,"color":"#888"},"encoding":{"x":{"datum":-1.3},"y":{"field":"r","type":"quantitative"},"text":{"field":"data"}}},
{"data":{"values":[{"t":"M1_2","x":21,"r":341},{"t":"M7_8","x":59.3,"r":341},{"t":"M13_14","x":97,"r":341}]},"mark":{"type":"text","angle":270,"align":"right","baseline":"middle","fontSize":6,"color":"#444"},"encoding":{"x":{"field":"x","type":"quantitative"},"y":{"field":"r","type":"quantitative"},"text":{"field":"t"}}},
{"data":{"values":[{"t":"(d)","x":-24.3,"r":-13}]},"mark":{"type":"text","align":"left","baseline":"alphabetic","font":"Liberation Serif","fontWeight":"bold","fontSize":18,"color":"#000"},"encoding":{"x":{"field":"x","type":"quantitative"},"y":{"field":"r","type":"quantitative"},"text":{"field":"t"}}}
]}
]}
